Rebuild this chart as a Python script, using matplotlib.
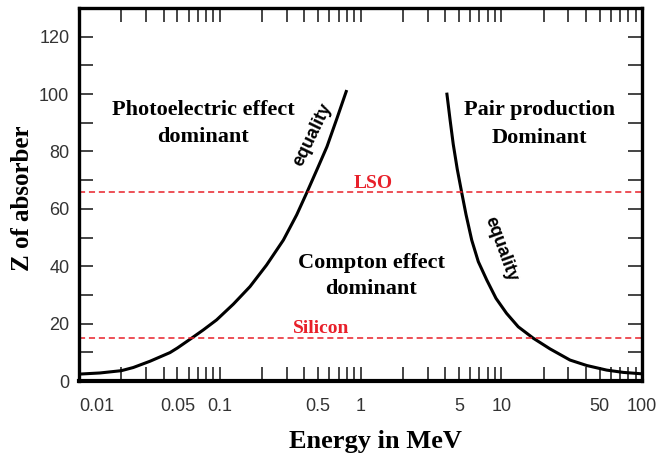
import matplotlib
matplotlib.use("Agg")
import matplotlib.pyplot as plt
from matplotlib.ticker import FixedLocator, NullFormatter

# equality curves (energy in MeV, Z)
pe_energy = [0.01, 0.0141, 0.02, 0.0243, 0.032, 0.0443, 0.05, 0.063, 0.0764, 0.095,
             0.125, 0.164, 0.215, 0.283, 0.352, 0.415, 0.499, 0.578, 0.681, 0.798]
pe_z = [2.4, 2.8, 3.6, 4.7, 6.9, 9.9, 11.5, 14.9, 17.8, 21.3,
        26.8, 32.9, 40.4, 49.1, 57.9, 65.6, 74.5, 81.7, 91.6, 101.4]

pair_energy = [4.10, 4.33, 4.56, 4.87, 5.24, 5.62, 6.17, 6.87, 7.89, 9.18,
               10.9, 13.2, 16.9, 22.2, 30.8, 40.5, 56.1, 73.6, 100]
pair_z = [100.5, 91.0, 82.5, 73.8, 65.6, 58.0, 49.1, 41.6, 35.2, 28.8,
          23.6, 18.9, 14.9, 11.2, 7.3, 5.4, 3.8, 3.0, 2.5]

materials = ["LSO", "Silicon"]
material_z = [66, 15]

xtick_values = [0.01, 0.05, 0.1, 0.5, 1, 5, 10, 50, 100]
xtick_labels = ["0.01", "0.05", "0.1", "0.5", "1", "5", "10", "50", "100"]
ytick_values = [0, 20, 40, 60, 80, 100, 120]

serif = "Liberation Serif"
sans = "Liberation Sans"

fig = plt.figure(figsize=(6.56, 4.57), dpi=100)
ax = fig.add_axes([79 / 656, 76 / 457, 563 / 656, 373 / 457])

for xs, ys in [(pe_energy, pe_z), (pair_energy, pair_z)]:
    ax.plot(xs, ys, color="black", lw=2.2, solid_capstyle="butt", solid_joinstyle="round")
for z in material_z:
    ax.axhline(z, color="#e8202a", lw=1.1, linestyle=(0, (4, 2.5)))

ax.set_xscale("log")
ax.set_xlim(0.01, 100)
ax.set_ylim(0, 130)

minor_x = [m * 10.0 ** k for k in range(-2, 2) for m in range(2, 10) if m != 5]
ax.xaxis.set_major_locator(FixedLocator(xtick_values))
ax.xaxis.set_minor_locator(FixedLocator(minor_x))
ax.set_xticklabels(xtick_labels)
ax.xaxis.set_minor_formatter(NullFormatter())
ax.yaxis.set_major_locator(FixedLocator(ytick_values))
ax.yaxis.set_minor_locator(FixedLocator(list(range(10, 130, 20))))

ax.tick_params(which="both", direction="in", top=True, right=True,
               length=10, width=1.4, color="#444444")
ax.tick_params(axis="x", which="major", pad=12)
ax.tick_params(axis="y", which="major", pad=7)
for lbl in ax.get_xticklabels() + ax.get_yticklabels():
    lbl.set_fontfamily(sans)
    lbl.set_fontsize(13)
    lbl.set_color("#333333")
ax.get_xticklabels()[0].set_ha("left")

for side in ["left", "right", "top"]:
    ax.spines[side].set_linewidth(2.4)
ax.spines["bottom"].set_linewidth(3)

ax.set_xlabel("Energy in MeV", fontfamily=serif, fontweight="bold", fontsize=19, va="center")
ax.xaxis.set_label_coords(0.526, -0.162)
ax.set_ylabel("Z of absorber", fontfamily=serif, fontweight="bold", fontsize=18, va="center")
ax.yaxis.set_label_coords(-0.101, 0.49)

bold = dict(fontfamily=serif, fontweight="bold", fontsize=16, ha="center",
            va="baseline", transform=ax.transAxes)
ax.text(0.2211, 0.7131, "Photoelectric effect", **bold)
ax.text(0.2194, 0.6408, "dominant", **bold)
ax.text(0.8171, 0.7131, "Pair production", **bold)
ax.text(0.818, 0.6389, "Dominant", **bold)
ax.text(0.5187, 0.3029, "Compton effect", **bold)
ax.text(0.5187, 0.2332, "dominant", **bold)

red = dict(fontfamily=serif, fontweight="bold", fontsize=14, ha="center",
           va="baseline", color="#e8202a", transform=ax.transAxes)
ax.text(0.5222, 0.5174, materials[0], **red)
ax.text(0.4307, 0.1287, materials[1], **red)

eq = dict(fontfamily=sans, fontweight="bold", fontsize=13, ha="center",
          va="center", rotation_mode="anchor", transform=ax.transAxes)
ax.text(0.4156, 0.6595, "equality", rotation=64, **eq)
ax.text(0.7487, 0.3539, "equality", rotation=-70, **eq)

fig.savefig("out.png", dpi=100)
